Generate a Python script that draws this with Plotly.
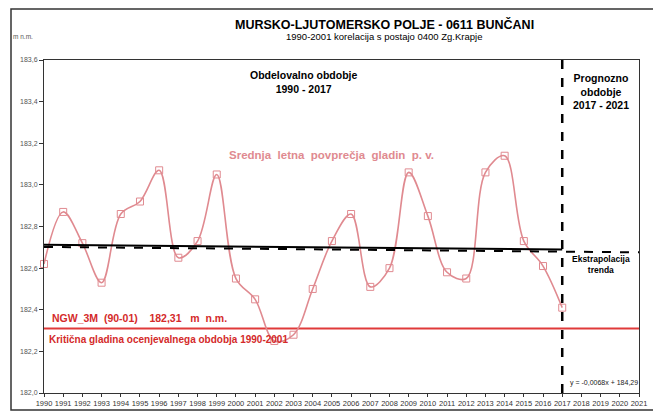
import plotly.graph_objects as go

years = list(range(1990, 2018))
levels = [182.62, 182.87, 182.72, 182.53, 182.86, 182.92, 183.07, 182.65, 182.73, 183.05,
          182.55, 182.45, 182.25, 182.28, 182.50, 182.73, 182.86, 182.51, 182.60, 183.06,
          182.85, 182.58, 182.55, 183.06, 183.14, 182.73, 182.61, 182.41]
trend_years = [1990, 2017]
trend_values = [182.712, 182.690]
extrap_years = [1990, 2021]
extrap_values = [182.702, 182.676]
critical_level = 182.31
split_year = 2017
x_ticks = list(range(1990, 2022))
y_ticks = [182.0, 182.2, 182.4, 182.6, 182.8, 183.0, 183.2, 183.4, 183.6]

# page is 661x412; the page body has an 8px margin, so the figure itself is smaller
PAGE_W, PAGE_H, OFF = 661, 412, 8
W, H = PAGE_W - OFF, PAGE_H - OFF
# plot area in page pixels
PL, PR, PT, PB = 44, 639, 60, 393
L, R, T, B = PL - OFF, W - (PR - OFF), PT - OFF, H - (PB - OFF)
pw, ph = PR - PL, PB - PT

def px(xp):
    return (xp - PL) / pw

def py(yp):
    return (PB - yp) / ph

fig = go.Figure()
fig.add_trace(go.Scatter(x=[x_ticks[0], x_ticks[-1]], y=[critical_level, critical_level], mode="lines",
                         line=dict(color="#e03a3a", width=2), hoverinfo="skip"))
fig.add_trace(go.Scatter(x=years, y=levels, mode="lines+markers", cliponaxis=False,
                         line=dict(color="#e08a90", width=1.6, shape="spline", smoothing=1),
                         marker=dict(symbol="square-open", size=7, color="#e08a90", line=dict(width=1))))
fig.add_trace(go.Scatter(x=trend_years, y=trend_values, mode="lines",
                         line=dict(color="black", width=2)))
fig.add_trace(go.Scatter(x=extrap_years, y=extrap_values, mode="lines",
                         line=dict(color="black", width=2, dash="dash")))

fig.add_shape(type="line", x0=split_year, x1=split_year, y0=0, y1=1, xref="x", yref="paper",
              line=dict(color="black", width=2.5, dash="dash"))
# outer frame
fig.add_shape(type="rect", xref="paper", yref="paper", x0=px(11), x1=px(657), y0=py(9), y1=py(410),
              line=dict(color="#333333", width=1.5))

def txt(x, y, s, size, color="black", bold=True, xanchor="center", yanchor="middle", align="center"):
    if bold:
        s = "<b>" + s + "</b>"
    fig.add_annotation(x=px(x), y=py(y), xref="paper", yref="paper", text=s, showarrow=False,
                       font=dict(size=size, color=color, family="Arial, Liberation Sans, sans-serif"),
                       xanchor=xanchor, yanchor=yanchor, align=align)

txt(384, 24, "MURSKO-LJUTOMERSKO POLJE - 0611 BUNČANI", 12.5)
txt(384, 36, "1990-2001 korelacija s postajo 0400 Zg.Krapje", 9.5, bold=False)
txt(23, 36, "m n.m.", 6.5, color="#555555", bold=False)
txt(303, 82, "Obdelovalno obdobje<br>1990 - 2017", 10.5)
txt(601, 91, "Prognozno<br>obdobje<br>2017 - 2021", 10.5)
txt(331, 155, "Srednja  letna  povprečja  gladin  p. v.", 11.5, color="#e08a90")
txt(601, 264, "Ekstrapolacija<br>trenda", 8.5)
txt(568, 383, "y = -0,0068x + 184,29", 7, bold=False, xanchor="left", color="#222222")
txt(50, 318, "NGW_3M  (90-01)    182,31   m  n.m.", 10.5, color="#d42a2a", xanchor="left")
txt(47, 339, "Kritična gladina ocenjevalnega obdobja 1990-2001", 10, color="#d42a2a", xanchor="left")

fig.update_layout(
    width=W, height=H, margin=dict(l=L, r=R, t=T, b=B),
    paper_bgcolor="white", plot_bgcolor="white", showlegend=False,
    separators=", ",
    font=dict(family="Arial, Liberation Sans, sans-serif"),
)
fig.update_xaxes(range=[1990, 2021], tickvals=x_ticks, ticktext=[str(v) for v in x_ticks],
                 tickfont=dict(size=7.5, color="#333333"), ticks="outside", ticklen=3, tickcolor="#333333",
                 showgrid=False, zeroline=False, showline=True, linecolor="#333333", linewidth=1,
                 mirror=True, tickangle=0, automargin=False)
fig.update_yaxes(range=[182.0, 183.6], tickvals=y_ticks, tickformat=".1f",
                 tickfont=dict(size=7, color="#555555"), ticks="outside", ticklen=4, tickcolor="#333333",
                 showgrid=False, zeroline=False, showline=True, linecolor="#333333", linewidth=1,
                 mirror=True, automargin=False)

fig.write_html("out.html")
